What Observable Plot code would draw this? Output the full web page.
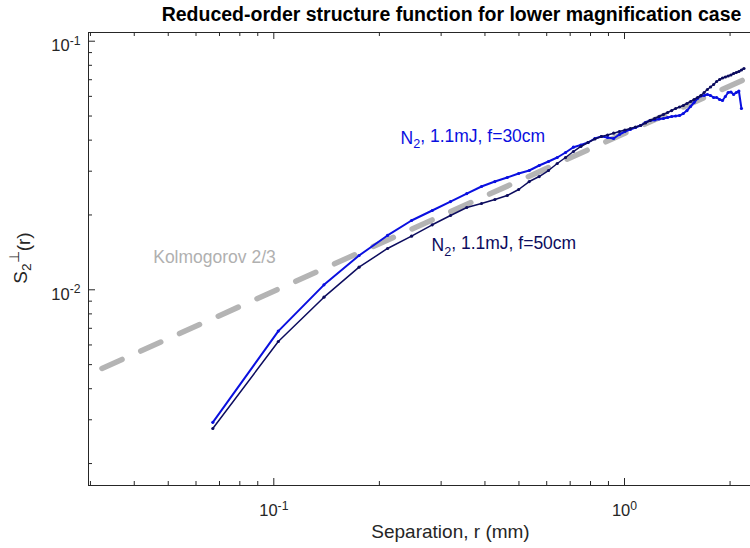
<!DOCTYPE html>
<html>
<head>
<meta charset="utf-8">
<script src="https://cdn.jsdelivr.net/npm/d3@7"></script>
<script src="https://cdn.jsdelivr.net/npm/@observablehq/plot@0.6"></script>
<style>
  body { margin: 0; background: #fff; }
  #chart svg { display: block; }
</style>
</head>
<body>
<div id="chart"></div>
<script>
// Separation r (mm) of each structure-function sample
const separation = [
  0.0670, 0.1030, 0.1390, 0.1750, 0.2110, 0.2470, 0.2830, 0.3190, 0.3550, 0.3910,
  0.4270, 0.4630, 0.4990, 0.5350, 0.5710, 0.6070, 0.6430, 0.6790, 0.7150, 0.7510,
  0.7870, 0.8230, 0.8590, 0.8950, 0.9310, 0.9670, 1.0030, 1.0390, 1.0750, 1.1110,
  1.1470, 1.1830, 1.2190, 1.2550, 1.2910, 1.3270, 1.3630, 1.3990, 1.4350, 1.4710,
  1.5070, 1.5430, 1.5790, 1.6150, 1.6510, 1.6870, 1.7230, 1.7590, 1.7950, 1.8310,
  1.8670, 1.9030, 1.9390, 1.9750, 2.0110, 2.0470, 2.0830, 2.1190, 2.1550, 2.1910
];

// N2, 1.1 mJ, f = 30 cm
const sF30 = [
  0.00293, 0.00682, 0.01047, 0.01374, 0.01654, 0.01900, 0.02084, 0.02265, 0.02439, 0.02603,
  0.02726, 0.02829, 0.02936, 0.03019, 0.03162, 0.03281, 0.03405, 0.03567, 0.03746, 0.03824,
  0.03913, 0.04061, 0.04137, 0.04099, 0.04061, 0.04214, 0.04333, 0.04414, 0.04497, 0.04581,
  0.04710, 0.04797, 0.04819, 0.04864, 0.04887, 0.04932, 0.04978, 0.05001, 0.05024, 0.05118,
  0.05262, 0.05461, 0.05667, 0.05881, 0.06019, 0.06047, 0.06103, 0.06047, 0.05936, 0.05936,
  0.05828, 0.05774, 0.05991, 0.06217, 0.06246, 0.06103, 0.06217, 0.06305, 0.05361
];

// N2, 1.1 mJ, f = 50 cm
const sF50 = [
  0.002767, 0.006194, 0.009338, 0.01233, 0.01466, 0.01643, 0.01826, 0.01990, 0.02143, 0.02224,
  0.02308, 0.02395, 0.02532, 0.02726, 0.02855, 0.03019, 0.03221, 0.03405, 0.03600, 0.03771,
  0.03913, 0.04042, 0.04137, 0.04194, 0.04265, 0.04333, 0.04393, 0.04455, 0.04518, 0.04581,
  0.04688, 0.04797, 0.04887, 0.04978, 0.05071, 0.05166, 0.05262, 0.05361, 0.05436, 0.05512,
  0.05616, 0.05721, 0.05828, 0.05936, 0.06047, 0.06217, 0.06393, 0.06543, 0.06696, 0.06885,
  0.07014, 0.07112, 0.07178, 0.07244, 0.07311, 0.07414, 0.07483, 0.07552, 0.07658, 0.07765
];

// Kolmogorov 2/3 reference line (end points)
const kolmogorovR = [0.03236, 2.17];
const kolmogorovS = [0.004825, 0.06963];

// Axis ticks
const xMajor = [0.1, 1];
const xMinor = [0.03, 0.04, 0.05, 0.06, 0.07, 0.08, 0.09, 0.2, 0.3, 0.4, 0.5, 0.6, 0.7, 0.8, 0.9, 2];
const yMajor = [0.01, 0.1];
const yMinor = [0.002, 0.003, 0.004, 0.005, 0.006, 0.007, 0.008, 0.009,
                0.02, 0.03, 0.04, 0.05, 0.06, 0.07, 0.08, 0.09];
const xDomain = [0.02962, 2.287];
const yDomain = [0.001632, 0.1084];

const FONT = '"Liberation Sans", Arial, Helvetica, sans-serif';
const AXIS = "#262626";
const BLUE = "#0a10e0";
const NAVY = "#0c0c5e";
const GREY = "#b4b4b4";

const W = 750, H = 548;
const M = {top: 32, right: 0, bottom: 63, left: 88};
const frameW = W - M.left - M.right;
const frameH = H - M.top - M.bottom;

const f30 = separation.slice(0, sF30.length).map((r, i) => ({r, s: sF30[i]}));
const f50 = separation.map((r, i) => ({r, s: sF50[i]}));
const kolmogorov = kolmogorovR.map((r, i) => ({r, s: kolmogorovS[i]}));

const chart = Plot.plot({
  width: W,
  height: H,
  marginTop: M.top,
  marginRight: M.right,
  marginBottom: M.bottom,
  marginLeft: M.left,
  style: {fontFamily: FONT, background: "#fff", color: AXIS, overflow: "visible"},
  x: {type: "log", domain: xDomain, axis: null},
  y: {type: "log", domain: yDomain, axis: null},
  marks: [
    // axis box lines
    Plot.ruleY([yDomain[0]], {stroke: AXIS}),
    Plot.ruleY([yDomain[1]], {stroke: AXIS}),
    Plot.ruleX([xDomain[0]], {stroke: AXIS}),
    // inward ticks, bottom and top
    Plot.tickX(xMajor, {stroke: AXIS, insetTop: frameH - 7}),
    Plot.tickX(xMinor, {stroke: AXIS, insetTop: frameH - 4}),
    Plot.tickX(xMajor, {stroke: AXIS, insetBottom: frameH - 7}),
    Plot.tickX(xMinor, {stroke: AXIS, insetBottom: frameH - 4}),
    // inward ticks, left
    Plot.tickY(yMajor, {stroke: AXIS, insetRight: frameW - 7}),
    Plot.tickY(yMinor, {stroke: AXIS, insetRight: frameW - 4}),
    // tick labels
    Plot.text(xMajor, {
      x: d => d, frameAnchor: "bottom", dy: 25.5, lineAnchor: "middle",
      text: d => `10^${Math.round(Math.log10(d))}`, fontSize: 16.5, fill: AXIS
    }),
    Plot.text(yMajor, {
      y: d => d, frameAnchor: "left", dx: -8, dy: 4.5, textAnchor: "end", lineAnchor: "middle",
      text: d => `10^${Math.round(Math.log10(d))}`, fontSize: 16.5, fill: AXIS
    }),
    // Kolmogorov reference
    Plot.line(kolmogorov, {x: "r", y: "s", stroke: GREY, strokeWidth: 5.5, strokeDasharray: "22,20.5"}),
    Plot.text(["Kolmogorov 2/3"], {x: 0.04530, y: 0.01288, textAnchor: "start", lineAnchor: "middle", dy: -5,
      fontSize: 17.5, fill: "#b0b0b0"}),
    // measured structure functions
    Plot.line(f30, {x: "r", y: "s", stroke: BLUE, strokeWidth: 2}),
    Plot.dot(f30, {x: "r", y: "s", r: 1.6, fill: BLUE}),
    Plot.line(f50, {x: "r", y: "s", stroke: NAVY, strokeWidth: 1.5}),
    Plot.dot(f50, {x: "r", y: "s", r: 1.6, fill: NAVY}),
    Plot.text(["N_2, 1.1mJ, f=30cm"], {x: 0.2298, y: 0.03878, textAnchor: "start", lineAnchor: "middle", dy: -5,
      fontSize: 17.5, fill: BLUE}),
    Plot.text(["N_2, 1.1mJ, f=50cm"], {x: 0.2817, y: 0.01439, textAnchor: "start", lineAnchor: "middle", dy: -5,
      fontSize: 17.5, fill: NAVY}),
    // title and x label
    Plot.text(["Reduced-order structure function for lower magnification case"], {
      frameAnchor: "top", dx: 32, dy: -18, lineAnchor: "middle",
      fontSize: 19.5, fontWeight: "bold", fill: "#000"
    }),
    Plot.text(["Separation, r (mm)"], {
      frameAnchor: "bottom", dx: 31, dy: 46, lineAnchor: "middle", fontSize: 19, fill: AXIS
    })
  ]
});

const svg = d3.select(chart);

// 10^e -> 10 with a raised exponent; N_2 -> N with a lowered 2
svg.selectAll("text").each(function () {
  const t = d3.select(this);
  const s = t.text();
  if (s.includes("^")) {
    const [base, exp] = s.split("^");
    t.text(base);
    t.append("tspan").attr("dy", "-0.5em").attr("font-size", "0.74em").text(exp);
  } else if (s.includes("_")) {
    const [head, rest] = s.split("_");
    t.text(head);
    t.append("tspan").attr("dy", "0.35em").attr("font-size", "0.72em").text(rest.slice(0, 1));
    t.append("tspan").attr("dy", "-0.35em").text(rest.slice(1));
  }
});

// y axis label S_2^⊥(r)
const yl = svg.append("text")
  .attr("transform", "translate(27,258) rotate(-90)")
  .attr("text-anchor", "middle")
  .attr("font-family", FONT)
  .attr("font-size", 19)
  .attr("fill", AXIS);
yl.append("tspan").text("S");
yl.append("tspan").attr("dy", "0.3em").attr("font-size", "0.72em").text("2");
yl.append("tspan").attr("dy", "-0.85em").attr("font-size", "0.72em").text("⊥");
yl.append("tspan").attr("dy", "0.55em").text("(r)");

document.getElementById("chart").appendChild(chart);
</script>
</body>
</html>
